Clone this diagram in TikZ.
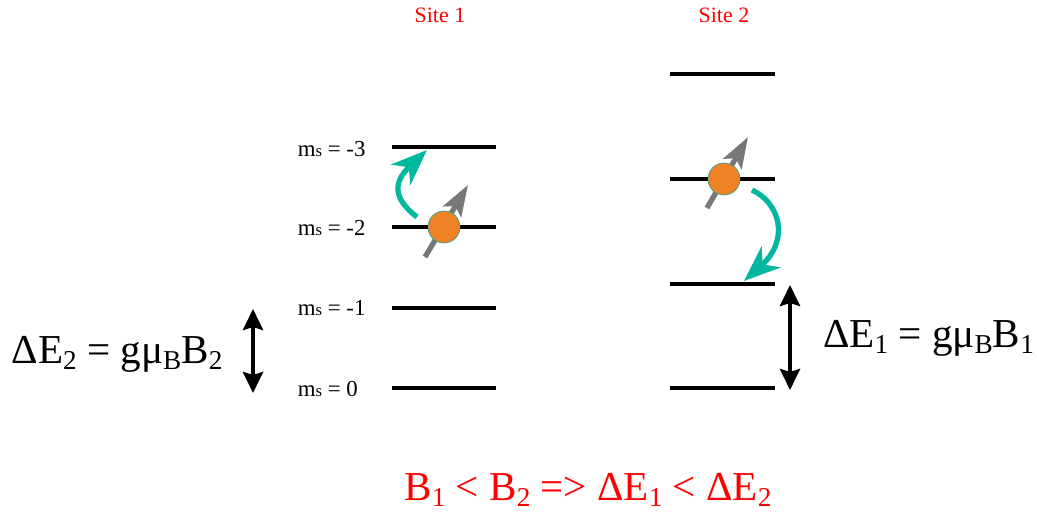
\documentclass[tikz,border=0pt]{standalone}
\usepackage{fontspec}
\setmainfont{Liberation Serif}
\usetikzlibrary{arrows.meta}
\definecolor{spinteal}{RGB}{0,184,160}
\definecolor{spinorange}{RGB}{238,130,36}
\definecolor{spingray}{RGB}{120,120,120}
\tikzset{
    level/.style={black, line width=2.2pt},
    sitelab/.style={font=\fontsize{12.5}{14}\selectfont, text=red, inner sep=0pt},
    mslab/.style={font=\fontsize{13}{15}\selectfont, anchor=west, inner sep=0pt},
    eqlab/.style={font=\fontsize{23.4}{26}\selectfont, inner sep=0pt},
    spinarr/.style={-{Stealth[length=0.62cm, width=0.42cm, inset=0.13cm]}, spingray, line width=3pt},
    spinball/.style={circle, fill=spinorange, draw=spinteal!60!gray, line width=0.4pt, minimum size=0.64cm, inner sep=0pt},
    hop/.style={-{Stealth[length=0.72cm, width=0.56cm, inset=0.22cm]}, spinteal, line width=3pt},
    gap/.style={{Stealth[length=0.42cm, width=0.4cm, inset=0.06cm]}-{Stealth[length=0.42cm, width=0.4cm, inset=0.06cm]}, black, line width=2.3pt}
}
\newcommand{\msub}[1]{m{\fontsize{9.5}{10}\selectfont s} = #1}
\newcommand{\lowidx}[1]{\raisebox{-0.16em}{\fontsize{15.5}{16}\selectfont #1}}
\begin{document}
\begin{tikzpicture}
    \useasboundingbox (0,0) rectangle (20.74,10.3);
    % site 1 levels
    \coordinate (a0l) at (7.84,2.54); \coordinate (a0r) at (9.92,2.54);
    \coordinate (a1l) at (7.84,4.14); \coordinate (a1r) at (9.92,4.14);
    \coordinate (a2l) at (7.84,5.76); \coordinate (a2r) at (9.92,5.76);
    \coordinate (a3l) at (7.84,7.36); \coordinate (a3r) at (9.92,7.36);
    \foreach \n in {a0,a1,a2,a3}
        \draw[level] (\n l) -- (\n r);
    % site 2 levels
    \coordinate (b0l) at (13.4,2.54); \coordinate (b0r) at (15.5,2.54);
    \coordinate (b1l) at (13.4,4.62); \coordinate (b1r) at (15.5,4.62);
    \coordinate (b2l) at (13.4,6.72); \coordinate (b2r) at (15.5,6.72);
    \coordinate (b3l) at (13.4,8.82); \coordinate (b3r) at (15.5,8.82);
    \foreach \n in {b0,b1,b2,b3}
        \draw[level] (\n l) -- (\n r);
    % labels
    \node[sitelab] (site1) at (8.8,10.0) {Site 1};
    \node[sitelab] (site2) at (14.48,10.0) {Site 2};
    \node[mslab] (ms3) at (5.95,7.32) {\msub{-3}};
    \node[mslab] (ms2) at (5.95,5.74) {\msub{-2}};
    \node[mslab] (ms1) at (5.95,4.14) {\msub{-1}};
    \node[mslab] (ms0) at (5.95,2.52) {\msub{0}};
    % spins
    \coordinate (s1a) at (8.5,5.16); \coordinate (s1b) at (9.36,6.6);
    \coordinate (s2a) at (14.14,6.14); \coordinate (s2b) at (14.96,7.56);
    \draw[spinarr] (s1a) -- (s1b);
    \draw[spinarr] (s2a) -- (s2b);
    \node[spinball] (spin1) at (8.88,5.76) {};
    \node[spinball] (spin2) at (14.48,6.72) {};
    % hops
    \coordinate (h1a) at (8.34,5.96); \coordinate (h1b) at (8.54,7.3);
    \coordinate (h2a) at (15.04,6.5); \coordinate (h2b) at (14.88,4.68);
    \draw[hop] (h1a) .. controls (7.9,6.3) and (7.82,6.62) .. (h1b);
    \draw[hop] (h2a) .. controls (15.6,6.24) and (15.8,5.5) .. (h2b);
    % energy gaps
    \coordinate (g1a) at (15.8,4.6); \coordinate (g1b) at (15.8,2.5);
    \coordinate (g2a) at (5.06,4.12); \coordinate (g2b) at (5.06,2.44);
    \draw[gap] (g1a) -- (g1b);
    \draw[gap] (g2a) -- (g2b);
    \node[eqlab] (eq2) at (2.34,3.22) {ΔE\lowidx{2} = gμ\lowidx{B}B\lowidx{2}};
    \node[eqlab] (eq1) at (18.57,3.54) {ΔE\lowidx{1} = gμ\lowidx{B}B\lowidx{1}};
    \node[eqlab, text=red] (cond) at (11.76,0.5) {B\lowidx{1} < B\lowidx{2} => ΔE\lowidx{1} < ΔE\lowidx{2}};
\end{tikzpicture}
\end{document}
